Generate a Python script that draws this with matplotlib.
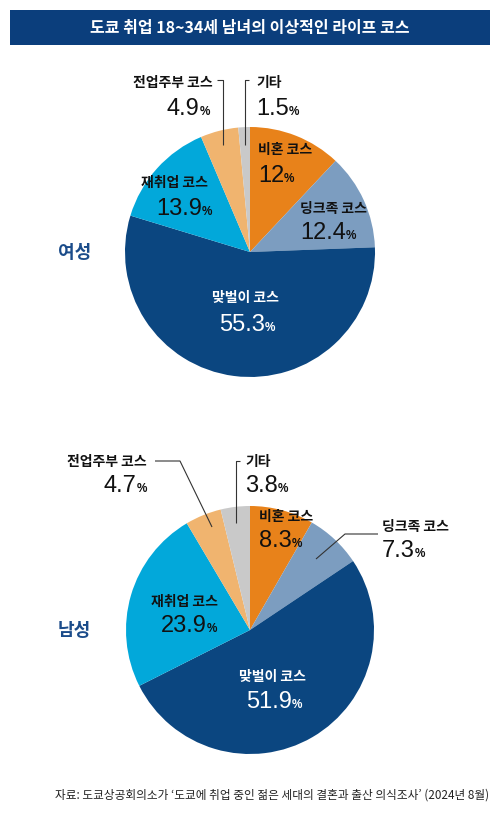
import matplotlib
matplotlib.use('Agg')
import matplotlib.pyplot as plt

plt.rcParams['font.family'] = ['Noto Sans CJK KR', 'DejaVu Sans']

W, H = 500, 823

# ---- data ----
courses = ['비혼 코스', '딩크족 코스', '맞벌이 코스', '재취업 코스', '전업주부 코스', '기타']
female = [12, 12.4, 55.3, 13.9, 4.9, 1.5]
male = [8.3, 7.3, 51.9, 23.9, 4.7, 3.8]
colors = ['#E8821A', '#7C9DC0', '#0B4680', '#02A8DA', '#F0B46F', '#C9C9C9']

title = '도쿄 취업 18~34세 남녀의 이상적인 라이프 코스'
source = "자료: 도쿄상공회의소가 ‘도쿄에 취업 중인 젊은 세대의 결혼과 출산 의식조사’ (2024년 8월)"

# ---- layout (image pixels, y from top) ----
# per course: (label x, label y, label ha, value x, value baseline, value ha)
female_pos = [
    (258, 150, 'left', 258, 182, 'left'),
    (300, 209, 'left', 300, 239, 'left'),
    (245, 298, 'center', 247, 331, 'center'),
    (208, 183, 'right', 212, 215, 'right'),
    (213, 83, 'right', 210, 115, 'right'),
    (256, 83, 'left', 256, 115, 'left'),
]
male_pos = [
    (259, 517, 'left', 259, 547, 'left'),
    (382, 527, 'left', 382, 557, 'left'),
    (272, 677, 'center', 274, 708, 'center'),
    (218, 602, 'right', 217, 632, 'right'),
    (147, 462, 'right', 147, 492, 'right'),
    (245, 462, 'left', 245, 492, 'left'),
]
female_leaders = [[(217, 80), (223, 80), (223, 145)],
                  [(249, 80), (245, 80), (245, 145)]]
male_leaders = [[(155, 461), (180, 461), (212, 527)],
                [(240, 461), (236, 461), (236, 523)],
                [(378, 534), (345, 534), (316, 559)]]


def py(y):
    return H - y


fig = plt.figure(figsize=(W / 100, H / 100), dpi=100)
ax = fig.add_axes([0, 0, 1, 1])

pies = [(female, (250, 252), 125, '여성', female_pos, female_leaders),
        (male, (250, 630), 124, '남성', male_pos, male_leaders)]

values_text = []
for vals, (cx, cy), r, name, pos, leaders in pies:
    ax.pie(vals, colors=colors, startangle=90, counterclock=False,
           center=(cx, py(cy)), radius=r, wedgeprops=dict(linewidth=0))
    ax.text(58, py(cy), name, fontsize=13, fontweight='bold', color='#1B4C8A',
            ha='left', va='center')
    for pts in leaders:
        ax.plot([p[0] for p in pts], [py(p[1]) for p in pts],
                color='#333333', lw=0.8, solid_capstyle='butt')
    for i, (course, v) in enumerate(zip(courses, vals)):
        lx, ly, lha, vx, vy, vha = pos[i]
        c = 'white' if i == 2 else '#111111'
        ax.text(lx, py(ly), course, fontsize=10, fontweight='bold', color=c,
                ha=lha, va='center')
        t = ax.text(vx, py(vy), f'{v:g}', fontsize=17, color=c,
                    family='Liberation Sans', ha='left', va='baseline')
        p = ax.text(vx, py(vy), '%', fontsize=8.5, fontweight='bold', color=c,
                    family='Liberation Sans', ha='left', va='baseline')
        values_text.append((t, p, vx, vha))

# title bar
ax.add_patch(plt.Rectangle((10, py(45)), 480, 35, color='#0B3E7C', lw=0))
ax.text(250, py(27.5), title, fontsize=11.5, fontweight='bold', color='white',
        ha='center', va='center')

ax.text(489, py(795), source, fontsize=8.4, color='#222222', ha='right', va='center')

ax.set_xlim(0, W)
ax.set_ylim(0, H)
ax.set_aspect('auto')
ax.axis('off')

# place number + small % next to each other
renderer = fig.canvas.get_renderer()
for t, p, x, ha in values_text:
    wn = t.get_window_extent(renderer).width
    wp = p.get_window_extent(renderer).width
    total = wn + wp
    left = x if ha == 'left' else (x - total if ha == 'right' else x - total / 2)
    t.set_x(left)
    p.set_x(left + wn)

fig.savefig('out.png', dpi=100)
